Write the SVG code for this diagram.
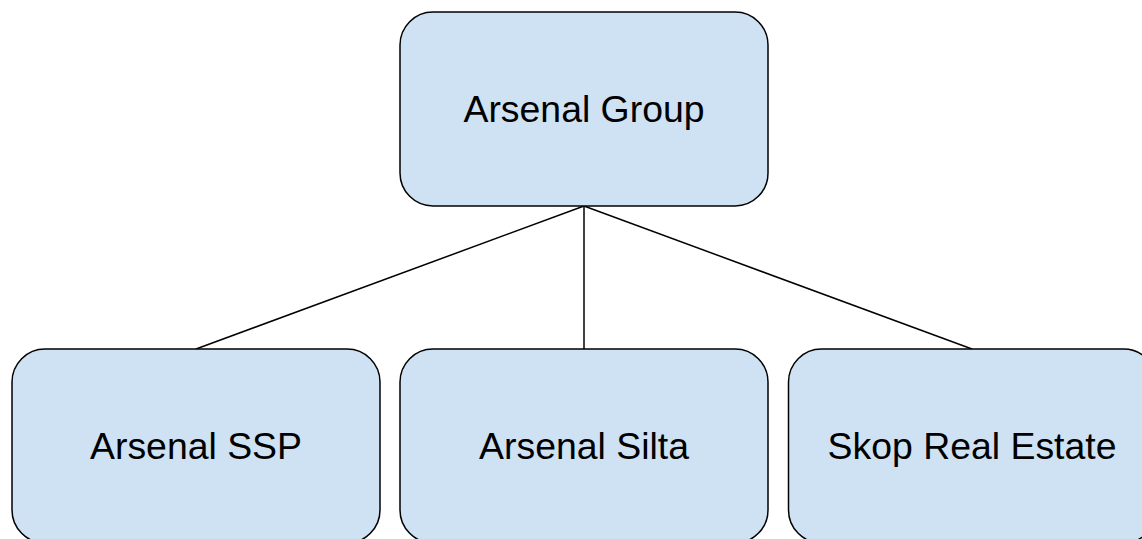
<svg xmlns="http://www.w3.org/2000/svg" width="1142" height="539" viewBox="0 0 1142 539">
<style>
.node rect{fill:#cfe2f3;stroke:#000;stroke-width:1.5}
.node text{font-family:"Liberation Sans",Arial,sans-serif;font-size:37.4px;fill:#000;text-anchor:middle}
.conn line{stroke:#000;stroke-width:1.5}
</style>
<rect width="1142" height="539" fill="#fff"/>
<g id="connectors" class="conn">
<line x1="584" y1="206" x2="196" y2="349"/>
<line x1="584" y1="206" x2="584" y2="349"/>
<line x1="584" y1="206" x2="972" y2="349"/>
</g>
<g id="arsenal-group" class="node">
<rect x="400" y="12" width="368" height="194" rx="33" ry="33"/>
<text x="584" y="122">Arsenal Group</text>
</g>
<g id="arsenal-ssp" class="node">
<rect x="12" y="349" width="368" height="194" rx="33" ry="33"/>
<text x="196" y="459">Arsenal SSP</text>
</g>
<g id="arsenal-silta" class="node">
<rect x="400" y="349" width="368" height="194" rx="33" ry="33"/>
<text x="584" y="459">Arsenal Silta</text>
</g>
<g id="skop-real-estate" class="node">
<rect x="788.5" y="349" width="368" height="194" rx="33" ry="33"/>
<text x="972" y="459">Skop Real Estate</text>
</g>
</svg>
